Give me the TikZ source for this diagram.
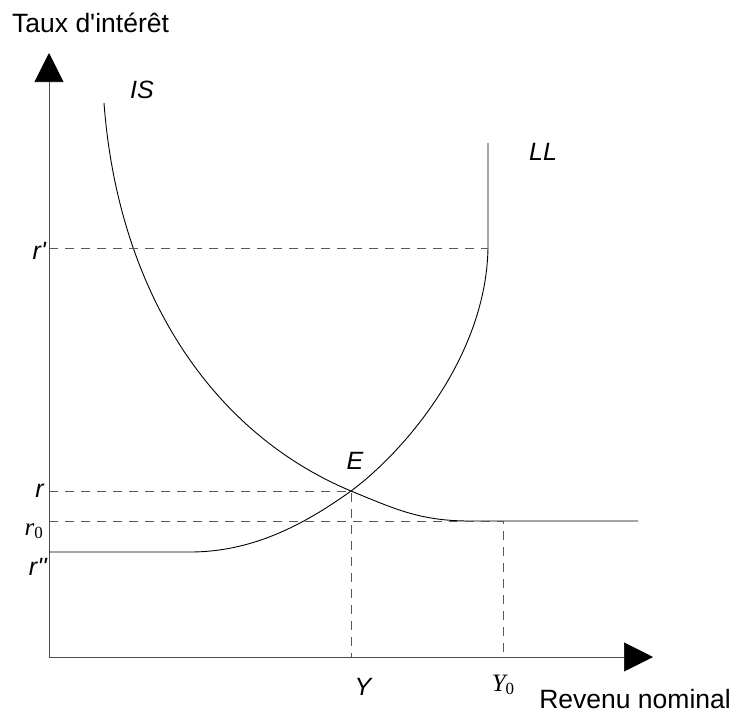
\documentclass[tikz,border=0pt]{standalone}
\usepackage{fontspec}
\setmainfont{Liberation Sans}
\newfontfamily\timesfont{Liberation Serif}
\usetikzlibrary{arrows.meta}
\tikzset{
  axis/.style={line width=0.7pt, black!70, -{Triangle[length=29pt,width=29pt,black]}},
  guide/.style={line width=0.7pt, black!65, dash pattern=on 9pt off 7pt},
  curve/.style={line width=0.9pt},
  lbl/.style={inner sep=0pt, font=\fontsize{25}{29}\selectfont\itshape},
  title/.style={inner sep=0pt, font=\fontsize{26.5}{31}\selectfont},
}
\newcommand{\tsub}[2]{{\timesfont\fontsize{25}{29}\selectfont\itshape #1}\raisebox{-0.55ex}{\timesfont\fontsize{17}{17}\selectfont #2}}
\begin{document}
\begin{tikzpicture}[x=1pt,y=-1pt]
  \useasboundingbox (0,0) rectangle (733,713);
  % axes
  \coordinate (O) at (49,657);
  \coordinate (ytip) at (49,53);
  \coordinate (xtip) at (653,657);
  \draw[axis] (O) -- (ytip);
  \draw[axis] (O) -- (xtip);
  % equilibrium point and curve ends
  \coordinate (E) at (351,491);
  \coordinate (LLk) at (488,248);
  \coordinate (ISk) at (470,521);
  \coordinate (Y0) at (503,521);
  % LL curve
  \draw[curve] (49,552) -- (190,552) .. controls (250,552) and (301,527) .. (E)
    .. controls (400,455) and (486,360) .. (LLk) -- (488,143);
  % IS curve
  \draw[curve] (104,103) .. controls (118,290) and (210,432) .. (E)
    .. controls (395,509) and (420,521) .. (ISk) -- (638,521);
  % dashed guides
  \draw[guide] (LLk -| O) -- (LLk);
  \draw[guide] (E -| O) -- (E) -- (E |- O);
  \draw[guide] (Y0 -| O) -- (Y0) -- (Y0 |- O);
  % labels
  \node[lbl, anchor=east] (rplab) at (46,251) {r\textquotesingle};
  \node[lbl, anchor=east] (rlab) at (44,491) {r};
  \node[inner sep=0pt, anchor=east] (r0lab) at (43,531) {\tsub{r}{0}};
  \node[lbl, anchor=east] (rpplab) at (47,567) {r\textquotesingle\textquotesingle};
  \node[lbl] (Elab) at (355,461) {E};
  \node[lbl] (ISlab) at (142,90) {IS};
  \node[lbl] (LLlab) at (543,152) {LL};
  \node[lbl] (Ylab) at (363,687) {Y};
  \node[inner sep=0pt] (Y0lab) at (503,685) {\tsub{Y}{0}};
  \node[title, anchor=base west] (ytitle) at (12,32) {Taux d\textquotesingle intérêt};
  \node[title, anchor=base east] (xtitle) at (731,708) {Revenu nominal};
\end{tikzpicture}
\end{document}
